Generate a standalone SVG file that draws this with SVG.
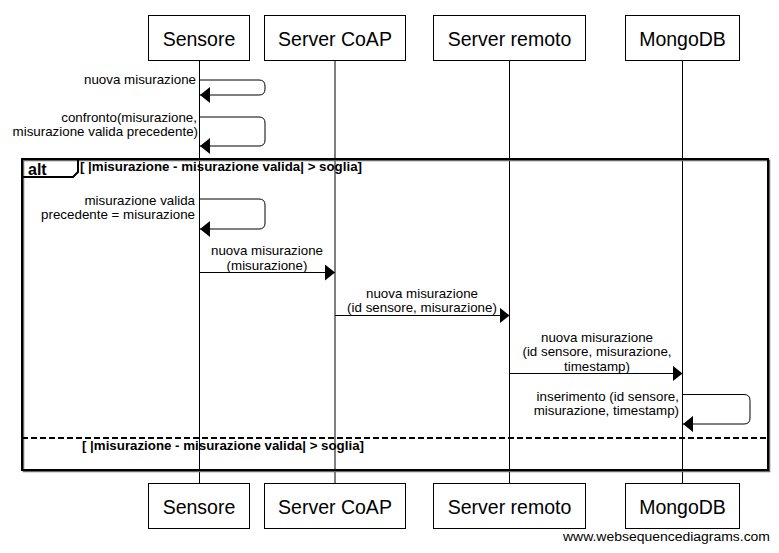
<svg xmlns="http://www.w3.org/2000/svg" width="779" height="553" viewBox="0 0 779 553">
<style>
.box{fill:#fff;stroke:#000;stroke-width:1}
.pn{font-family:"Liberation Sans",Arial,sans-serif;font-size:19.5px;fill:#000;text-anchor:middle}
.life{stroke:#000;stroke-width:1}
.msg{fill:none;stroke:#000;stroke-width:1;marker-end:url(#ah)}
.lbl{font-family:"Liberation Sans",Arial,sans-serif;font-size:13.35px;fill:#000}
.e{text-anchor:end}
.m{text-anchor:middle}
.cond{font-family:"Liberation Sans",Arial,sans-serif;font-size:13.3px;font-weight:bold;fill:#000}
</style>
<defs>
<marker id="ah" markerUnits="userSpaceOnUse" markerWidth="10" markerHeight="16" refX="10" refY="8" orient="auto" viewBox="0 0 10 16">
<path d="M0,0 L10,8 L0,16 z" fill="#000"/>
</marker>
</defs>
<rect width="779" height="553" fill="#fff"/>
<g id="lifelines">
<line class="life" x1="199.5" y1="60" x2="199.5" y2="483"/>
<line class="life" x1="335" y1="60" x2="335" y2="483"/>
<line class="life" x1="509.5" y1="60" x2="509.5" y2="483"/>
<line class="life" x1="682.5" y1="60" x2="682.5" y2="483"/>
</g>
<g id="alt-frame">
<rect x="23.5" y="160.5" width="746" height="311" fill="none" stroke="#666" stroke-width="1.5"/>
<rect x="22" y="159" width="746" height="311" fill="none" stroke="#000" stroke-width="2"/>
<path d="M22,177 H73 L78,172 V159" fill="none" stroke="#000" stroke-width="2"/>
<text x="28" y="175" style="font-family:'Liberation Sans',Arial,sans-serif;font-size:16px;font-weight:bold">alt</text>
<text class="cond" x="80" y="171">[ |misurazione - misurazione valida| &gt; soglia]</text>
<line x1="22" y1="438" x2="768" y2="438" stroke="#000" stroke-width="2" stroke-dasharray="6,3"/>
<text class="cond" x="82" y="450">[ |misurazione - misurazione valida| &gt; soglia]</text>
</g>
<g id="connectors">
<path class="msg" d="M199.5,80 H259 Q265,80 265,86 V89 Q265,95 259,95 H200"/>
<text class="lbl e" x="196" y="84">nuova misurazione</text>
<path class="msg" d="M199.5,117 H259 Q265,117 265,123 V140 Q265,146 259,146 H200"/>
<text class="lbl e" x="197" y="122">confronto(misurazione,</text>
<text class="lbl e" x="198" y="136">misurazione valida precedente)</text>
<path class="msg" d="M199.5,199 H259 Q265,199 265,205 V223 Q265,229 259,229 H200"/>
<text class="lbl e" x="195" y="205">misurazione valida</text>
<text class="lbl e" x="195" y="219">precedente = misurazione</text>
<path class="msg" d="M199.5,272.5 H335"/>
<text class="lbl m" x="267" y="255">nuova misurazione</text>
<text class="lbl m" x="267" y="270">(misurazione)</text>
<path class="msg" d="M335,315.5 H509.5"/>
<text class="lbl m" x="422" y="298">nuova misurazione</text>
<text class="lbl m" x="422" y="312">(id sensore, misurazione)</text>
<path class="msg" d="M509.5,373.5 H682.5"/>
<text class="lbl m" x="597" y="342">nuova misurazione</text>
<text class="lbl m" x="597" y="356">(id sensore, misurazione,</text>
<text class="lbl m" x="597" y="371">timestamp)</text>
<path class="msg" d="M682.5,394.5 H744 Q750,394.5 750,400.5 V418 Q750,424 744,424 H683"/>
<text class="lbl e" x="679" y="401">inserimento (id sensore,</text>
<text class="lbl e" x="679" y="415">misurazione, timestamp)</text>
</g>
<g id="sensore-top"><rect class="box" x="148.5" y="15.5" width="101" height="45"/><text class="pn" x="199" y="46">Sensore</text></g>
<g id="coap-top"><rect class="box" x="264.5" y="15.5" width="141" height="45"/><text class="pn" x="335" y="46">Server CoAP</text></g>
<g id="remoto-top"><rect class="box" x="433.5" y="15.5" width="152" height="45"/><text class="pn" x="509.5" y="46">Server remoto</text></g>
<g id="mongo-top"><rect class="box" x="625.5" y="15.5" width="114" height="45"/><text class="pn" x="682.5" y="46">MongoDB</text></g>
<g id="sensore-bottom"><rect class="box" x="148.5" y="483.5" width="101" height="45"/><text class="pn" x="199" y="514">Sensore</text></g>
<g id="coap-bottom"><rect class="box" x="264.5" y="483.5" width="141" height="45"/><text class="pn" x="335" y="514">Server CoAP</text></g>
<g id="remoto-bottom"><rect class="box" x="433.5" y="483.5" width="152" height="45"/><text class="pn" x="509.5" y="514">Server remoto</text></g>
<g id="mongo-bottom"><rect class="box" x="625.5" y="483.5" width="114" height="45"/><text class="pn" x="682.5" y="514">MongoDB</text></g>
<text x="770" y="541" text-anchor="end" textLength="207" lengthAdjust="spacingAndGlyphs" style="font-family:'Liberation Sans',Arial,sans-serif;font-size:12.5px">www.websequencediagrams.com</text>
</svg>
